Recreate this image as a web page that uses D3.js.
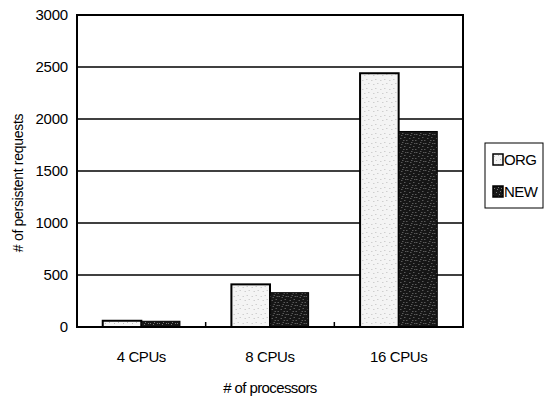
<!DOCTYPE html>
<html>
<head>
<meta charset="utf-8">
<title>Persistent requests by processors</title>
<script src="https://cdn.jsdelivr.net/npm/d3@7"></script>
<style>
body { margin: 0; background: #fff; }
text { font-family: "Liberation Sans", Arial, sans-serif; fill: #000; }
</style>
</head>
<body>
<div id="chart"></div>
<script>
// data
var categories = ["4 CPUs", "8 CPUs", "16 CPUs"];
var series = ["ORG", "NEW"];
var orgValues = [60, 410, 2440];
var newValues = [55, 330, 1880];
var yTicks = [0, 500, 1000, 1500, 2000, 2500, 3000];

var W = 545, H = 398;
var margin = {top: 15, right: 82, bottom: 71, left: 77},
    width = W - margin.left - margin.right,
    height = H - margin.top - margin.bottom;

var svg = d3.select('#chart').append('svg')
    .attr('width', W)
    .attr('height', H);

// speckled fills, like the scanned original
var defs = svg.append('defs');
function speckle(id, bg, dot, n) {
    var p = defs.append('pattern')
        .attr('id', id)
        .attr('width', 9).attr('height', 9)
        .attr('patternUnits', 'userSpaceOnUse');
    p.append('rect').attr('width', 9).attr('height', 9).attr('fill', bg);
    [[1,2],[5,1],[3,6],[7,5],[0,8],[6,8],[4,3],[8,2]].slice(0, n).forEach(function(d) {
        p.append('rect').attr('x', d[0]).attr('y', d[1])
            .attr('width', 1).attr('height', 1).attr('fill', dot);
    });
}
speckle('orgFill', '#f4f4f4', '#bdbdbd', 4);
speckle('newFill', '#161616', '#7a7a7a', 8);
var fills = {"ORG": "url(#orgFill)", "NEW": "url(#newFill)"};

var g = svg.append('g')
    .attr('transform', 'translate(' + [margin.left, margin.top] + ')');

var x0 = d3.scaleBand()
    .domain(categories)
    .range([0, width]);
var x1 = d3.scaleBand()
    .domain(series)
    .range([x0.bandwidth() * 0.2, x0.bandwidth() * 0.8]);
var y = d3.scaleLinear()
    .domain([0, 3000])
    .range([height, 0]);

// gridlines
g.selectAll('.grid')
    .data(yTicks)
  .enter().append('line')
    .attr('class', 'grid')
    .attr('x1', 0).attr('x2', width)
    .attr('y1', d => y(d)).attr('y2', d => y(d))
    .attr('stroke', '#000')
    .attr('stroke-width', 1.5);

// y axis labels
var yAxis = d3.axisLeft(y)
    .tickValues(yTicks)
    .tickFormat(d3.format('d'))
    .tickSize(0)
    .tickPadding(9);
g.append('g')
    .attr('class', 'y axis')
    .call(yAxis)
    .call(a => a.select('.domain').remove())
    .selectAll('text')
    .style('font-size', '15px')
    .style('letter-spacing', '-0.2px');

// bars
var rows = categories.map(function(c, i) {
    return {cat: c, vals: [{s: "ORG", v: orgValues[i]}, {s: "NEW", v: newValues[i]}]};
});
var groups = g.selectAll('.group')
    .data(rows)
  .enter().append('g')
    .attr('class', 'group')
    .attr('transform', d => 'translate(' + x0(d.cat) + ',0)');
groups.selectAll('rect')
    .data(d => d.vals)
  .enter().append('rect')
    .attr('x', d => x1(d.s))
    .attr('width', x1.bandwidth())
    .attr('y', d => y(d.v))
    .attr('height', d => y(0) - y(d.v))
    .attr('fill', d => fills[d.s])
    .attr('stroke', '#000')
    .attr('stroke-width', d => d.s == "ORG" ? 2 : 1);

// category ticks pointing up from the base
g.selectAll('.ctick')
    .data(categories.slice(1))
  .enter().append('line')
    .attr('x1', d => x0(d)).attr('x2', d => x0(d))
    .attr('y1', height).attr('y2', height - 5)
    .attr('stroke', '#000')
    .attr('stroke-width', 1.5);

// plot frame
g.append('rect')
    .attr('width', width)
    .attr('height', height)
    .attr('fill', 'none')
    .attr('stroke', '#000')
    .attr('stroke-width', 2);

// x labels
var xAxis = d3.axisBottom(x0).tickSize(0).tickPadding(24);
g.append('g')
    .attr('class', 'x axis')
    .attr('transform', 'translate(0,' + height + ')')
    .call(xAxis)
    .call(a => a.select('.domain').remove())
    .selectAll('text')
    .style('font-size', '15px')
    .style('letter-spacing', '-0.4px');

// axis titles
svg.append('text')
    .attr('x', margin.left + width / 2)
    .attr('y', 393)
    .attr('text-anchor', 'middle')
    .style('font-size', '15px')
    .style('letter-spacing', '-0.6px')
    .text('# of processors');
svg.append('text')
    .attr('transform', 'translate(23,183) rotate(-90)')
    .attr('text-anchor', 'middle')
    .style('font-size', '14px')
    .style('letter-spacing', '-0.3px')
    .text('# of persistent requests');

// legend
var legend = svg.append('g')
    .attr('transform', 'translate(485,143)');
legend.append('rect')
    .attr('width', 58)
    .attr('height', 65)
    .attr('fill', '#fff')
    .attr('stroke', '#000')
    .attr('stroke-width', 1);
var items = legend.selectAll('.item')
    .data(series)
  .enter().append('g')
    .attr('class', 'item')
    .attr('transform', (d, i) => 'translate(8,' + (11 + i * 32) + ')');
items.append('rect')
    .attr('width', 10)
    .attr('height', 11)
    .attr('fill', d => fills[d])
    .attr('stroke', '#000')
    .attr('stroke-width', 1.5);
items.append('text')
    .attr('x', 11)
    .attr('y', 11)
    .style('font-size', '15px')
    .style('letter-spacing', '-0.6px')
    .text(d => d);
</script>
</body>
</html>
